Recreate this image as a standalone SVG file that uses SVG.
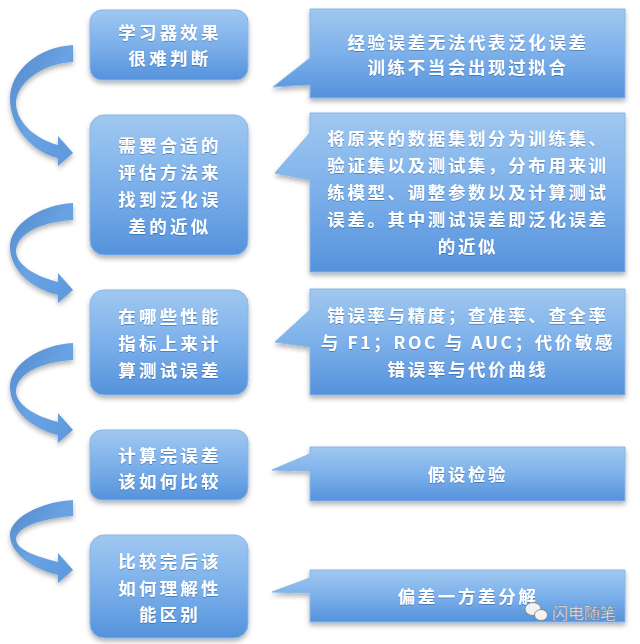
<svg xmlns="http://www.w3.org/2000/svg" width="640" height="644" viewBox="0 0 640 644">
<defs>
  <linearGradient id="gBox" x1="0" y1="0" x2="0" y2="1">
    <stop offset="0" stop-color="#a0c8f0"/>
    <stop offset="0.5" stop-color="#7cb0ea"/>
    <stop offset="1" stop-color="#5592dc"/>
  </linearGradient>
  <linearGradient id="gArrow" x1="0" y1="0" x2="1" y2="1">
    <stop offset="0" stop-color="#5288c8"/>
    <stop offset="0.5" stop-color="#69a3e4"/>
    <stop offset="1" stop-color="#5d98dc"/>
  </linearGradient>
  <filter id="sh" x="-10%" y="-10%" width="120%" height="130%">
    <feDropShadow dx="0" dy="3" stdDeviation="2.5" flood-color="#000" flood-opacity="0.3"/>
  </filter>
  <filter id="tsh" x="-5%" y="-20%" width="110%" height="140%">
    <feDropShadow dx="0" dy="1" stdDeviation="0.6" flood-color="#1e4f8a" flood-opacity="0.45"/>
  </filter>
</defs>
<style>
  .box { fill: url(#gBox); stroke: #86b6ea; stroke-width: 1; filter: url(#sh); }
  .call { fill: url(#gBox); stroke: #86b6ea; stroke-width: 1; filter: url(#sh); }
  .arrow { fill: url(#gArrow); filter: url(#sh); }
  .t { font-family: "Noto Sans CJK SC", "Liberation Sans", sans-serif; font-size: 17.5px; font-weight: bold; fill: #ffffff; text-anchor: middle; letter-spacing: 3.2px; filter: url(#tsh); }
  .c { font-family: "Noto Sans CJK SC", "Liberation Sans", sans-serif; font-size: 17.5px; font-weight: bold; fill: #ffffff; text-anchor: middle; letter-spacing: 2.6px; filter: url(#tsh); }
  .wm { font-family: "Noto Sans CJK SC", sans-serif; font-size: 16px; fill: #f4f4f4; stroke: #707070; stroke-width: 0.35px; }
</style>

<g id="connectors">
  <path class="arrow" d="M73,45 C38,47 10,71 10,99 C10,127 32,152 58,158 L58,166 L73,153 L58,136 L58,145 C38,140 17,124 16,104 C16,84 40,64 73,62 Z"/>
  <path class="arrow" d="M73,203 C40,205 10,224 10,247 C10,270 32,289 58,295 L58,303 L73,290 L58,273 L58,282 C38,277 17,266 16,252 C16,234 40,222 73,220 Z"/>
  <path class="arrow" d="M73,343 C40,345 10,364 10,387 C10,410 32,429 58,435 L58,443 L73,430 L58,413 L58,422 C38,417 17,406 16,392 C16,374 40,362 73,360 Z"/>
  <path class="arrow" d="M73,500 C40,502 10,518 10,535 C10,553 32,569 58,575 L58,583 L73,570 L58,553 L58,562 C38,557 17,550 16,540 C16,527 40,519 73,516 Z"/>
</g>

<g id="node1">
  <rect class="box" x="90" y="10" width="158" height="70" rx="12"/>
  <text class="t" x="170" y="39">学习器效果</text>
  <text class="t" x="170" y="65">很难判断</text>
</g>
<g id="node2">
  <rect class="box" x="90" y="115" width="158" height="140" rx="14"/>
  <text class="t" x="170" y="152">需要合适的</text>
  <text class="t" x="170" y="179">评估方法来</text>
  <text class="t" x="170" y="206">找到泛化误</text>
  <text class="t" x="170" y="233">差的近似</text>
</g>
<g id="node3">
  <rect class="box" x="90" y="290" width="158" height="105" rx="14"/>
  <text class="t" x="170" y="323">在哪些性能</text>
  <text class="t" x="170" y="350">指标上来计</text>
  <text class="t" x="170" y="377">算测试误差</text>
</g>
<g id="node4">
  <rect class="box" x="90" y="430" width="158" height="70" rx="12"/>
  <text class="t" x="170" y="462">计算完误差</text>
  <text class="t" x="170" y="488">该如何比较</text>
</g>
<g id="node5">
  <rect class="box" x="90" y="535" width="158" height="103" rx="14"/>
  <text class="t" x="170" y="568">比较完后该</text>
  <text class="t" x="170" y="595">如何理解性</text>
  <text class="t" x="170" y="621">能区别</text>
</g>

<g id="callout1">
  <path class="call" d="M310,9 H625 V98 H310 V85 L273,87 L310,58 Z"/>
  <text class="c" x="468" y="49">经验误差无法代表泛化误差</text>
  <text class="c" x="468" y="74">训练不当会出现过拟合</text>
</g>
<g id="callout2">
  <path class="call" d="M310,113 H625 V272 H310 V180 L275,173 L310,133 Z"/>
  <text class="c" x="468" y="145">将原来的数据集划分为训练集、</text>
  <text class="c" x="468" y="172">验证集以及测试集，分布用来训</text>
  <text class="c" x="468" y="199">练模型、调整参数以及计算测试</text>
  <text class="c" x="468" y="226">误差。其中测试误差即泛化误差</text>
  <text class="c" x="468" y="253">的近似</text>
</g>
<g id="callout3">
  <path class="call" d="M310,289 H625 V395 H310 V347 L275,342 L310,310 Z"/>
  <text class="c" x="468" y="322">错误率与精度；查准率、查全率</text>
  <text class="c" x="468" y="349">与 F1；ROC 与 AUC；代价敏感</text>
  <text class="c" x="468" y="376">错误率与代价曲线</text>
</g>
<g id="callout4">
  <path class="call" d="M310,447 H625 V501 H310 V471 L272,470 L310,454 Z"/>
  <text class="c" x="468" y="481">假设检验</text>
</g>
<g id="callout5">
  <path class="call" d="M310,570 H625 V622 H310 V593 L272,592 L310,578 Z"/>
  <text class="c" x="468" y="603">偏差一方差分解</text>
</g>

<g id="watermark">
  <ellipse cx="533" cy="609" rx="8" ry="6.5" fill="#f2f2f2" stroke="#7a7a7a" stroke-width="0.8"/>
  <ellipse cx="541" cy="615" rx="6.5" ry="5.5" fill="#f2f2f2" stroke="#7a7a7a" stroke-width="0.8"/>
  <text class="wm" x="552" y="619">闪电随笔</text>
</g>
</svg>
